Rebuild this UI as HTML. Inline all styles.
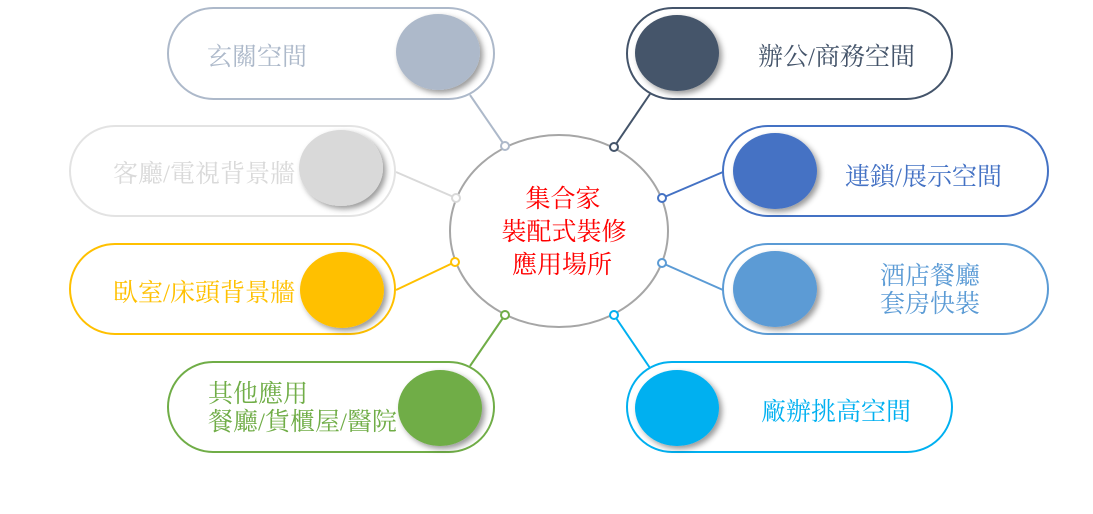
<!DOCTYPE html>
<html><head><meta charset="utf-8"><style>
html,body{margin:0;padding:0;background:#fff;}
svg{display:block}
text{font-family:"Liberation Serif","Noto Serif CJK SC",serif;font-size:25px;}
</style></head><body>
<svg width="1093" height="514" viewBox="0 0 1093 514" xmlns="http://www.w3.org/2000/svg">
<defs>
<filter id="sh" x="-30%" y="-30%" width="170%" height="170%"><feDropShadow dx="3" dy="3" stdDeviation="3" flood-color="#000" flood-opacity="0.4"/></filter>
</defs>
<g stroke-width="2" fill="none">
<line x1="505" y1="146" x2="470" y2="95" stroke="#adb9ca"/>
<line x1="614" y1="147" x2="650" y2="94" stroke="#44546a"/>
<line x1="456" y1="198" x2="396" y2="172" stroke="#d9d9d9"/>
<line x1="662" y1="198" x2="723" y2="172" stroke="#4472c4"/>
<line x1="455" y1="262" x2="396" y2="290" stroke="#ffc000"/>
<line x1="662" y1="263" x2="723" y2="290" stroke="#5b9bd5"/>
<line x1="505" y1="315" x2="470" y2="366" stroke="#70ad47"/>
<line x1="614" y1="315" x2="650" y2="368" stroke="#00b0f0"/>
</g>
<ellipse cx="559" cy="231" rx="109" ry="96" fill="#fff" stroke="#a6a6a6" stroke-width="2"/>
<g fill="#fff" stroke-width="2">
<circle cx="505" cy="146" r="4" stroke="#adb9ca"/>
<circle cx="614" cy="147" r="4" stroke="#44546a"/>
<circle cx="456" cy="198" r="4" stroke="#d9d9d9"/>
<circle cx="662" cy="198" r="4" stroke="#4472c4"/>
<circle cx="455" cy="262" r="4" stroke="#ffc000"/>
<circle cx="662" cy="263" r="4" stroke="#5b9bd5"/>
<circle cx="505" cy="315" r="4" stroke="#70ad47"/>
<circle cx="614" cy="315" r="4" stroke="#00b0f0"/>
</g>
<g fill="#ff0000" text-anchor="middle" style="font-size:28px">
<text x="563" y="207">集合家</text>
<text x="564" y="240">裝配式裝修</text>
<text x="562" y="273">應用場所</text>
</g>
<g fill="#fff" stroke-width="2">
<rect x="168" y="8" width="326" height="91" rx="45.5" stroke="#adb9ca"/>
<rect x="627" y="8" width="325" height="91" rx="45.5" stroke="#44546a"/>
<rect x="70" y="126" width="325" height="90" rx="45" stroke="#e3e3e3"/>
<rect x="723" y="126" width="325" height="90" rx="45" stroke="#4472c4"/>
<rect x="70" y="244" width="325" height="90" rx="45" stroke="#ffc000"/>
<rect x="723" y="244" width="325" height="90" rx="45" stroke="#5b9bd5"/>
<rect x="168" y="362" width="326" height="90" rx="45" stroke="#70ad47"/>
<rect x="627" y="362" width="325" height="90" rx="45" stroke="#00b0f0"/>
</g>
<g filter="url(#sh)">
<ellipse cx="438" cy="52" rx="42" ry="38" fill="#adb9ca"/>
<ellipse cx="677" cy="53" rx="42" ry="38" fill="#44546a"/>
<ellipse cx="341" cy="168" rx="42" ry="38" fill="#d9d9d9"/>
<ellipse cx="775" cy="171" rx="42" ry="38" fill="#4472c4"/>
<ellipse cx="342" cy="290" rx="42" ry="38" fill="#ffc000"/>
<ellipse cx="775" cy="289" rx="42" ry="38" fill="#5b9bd5"/>
<ellipse cx="440" cy="408" rx="42" ry="38" fill="#70ad47"/>
<ellipse cx="677" cy="408" rx="42" ry="38" fill="#00b0f0"/>
</g>
<text x="207" y="65" fill="#adb9ca">玄關空間</text>
<text x="758" y="65" fill="#44546a">辦公/商務空間</text>
<text x="113" y="182" fill="#d9d9d9">客廳/電視背景牆</text>
<text x="845" y="185" fill="#4472c4">連鎖/展示空間</text>
<text x="113" y="301" fill="#ffc000">臥室/床頭背景牆</text>
<text x="880" y="284" fill="#5b9bd5">酒店餐廳</text>
<text x="880" y="312" fill="#5b9bd5">套房快裝</text>
<text x="208" y="402" fill="#70ad47">其他應用</text>
<text x="208" y="430" fill="#70ad47">餐廳/貨櫃屋/醫院</text>
<text x="761" y="420" fill="#00b0f0">廠辦挑高空間</text>
</svg>
</body></html>
